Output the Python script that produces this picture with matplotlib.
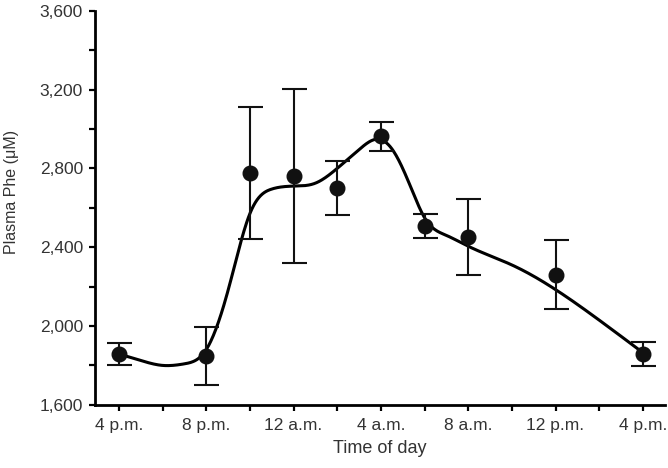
import numpy as np
import matplotlib
matplotlib.use("Agg")
import matplotlib.pyplot as plt
from matplotlib.ticker import FuncFormatter, MultipleLocator

plt.rcParams['font.family'] = ['Liberation Sans', 'DejaVu Sans']

# Measured points (hours after 4 p.m.)
hours = [0, 4, 6, 8, 10, 12, 14, 16, 20, 24]
phe_mean = [1858, 1848, 2778, 2762, 2700, 2962, 2508, 2453, 2260, 1858]
phe_err = [58, 148, 335, 440, 137, 72, 63, 192, 175, 60]

# Fitted curve
curve_hours = [0, 1, 2, 3, 4, 5, 6, 7, 8, 9, 10, 11, 11.8, 12.5, 13, 13.5,
               14, 15, 16, 18, 20, 22, 24]
curve_phe = [1858, 1825, 1800, 1808, 1880, 2180, 2570, 2695, 2710, 2725,
             2800, 2895, 2948, 2900, 2800, 2670, 2550, 2460, 2405, 2310,
             2185, 2030, 1865]

tick_hours = [0, 4, 8, 12, 16, 20, 24]
tick_labels = ["4 p.m.", "8 p.m.", "12 a.m.", "4 a.m.", "8 a.m.", "12 p.m.", "4 p.m."]


def natural_spline(x, y, xs):
    x = np.asarray(x, float)
    y = np.asarray(y, float)
    n = len(x)
    h = np.diff(x)
    A = np.zeros((n, n))
    b = np.zeros(n)
    A[0, 0] = 1
    A[-1, -1] = 1
    for i in range(1, n - 1):
        A[i, i - 1] = h[i - 1]
        A[i, i] = 2 * (h[i - 1] + h[i])
        A[i, i + 1] = h[i]
        b[i] = 3 * ((y[i + 1] - y[i]) / h[i] - (y[i] - y[i - 1]) / h[i - 1])
    c = np.linalg.solve(A, b)
    bb = (y[1:] - y[:-1]) / h - h * (2 * c[:-1] + c[1:]) / 3
    d = (c[1:] - c[:-1]) / (3 * h)
    idx = np.clip(np.searchsorted(x, xs) - 1, 0, n - 2)
    dx = xs - x[idx]
    return y[idx] + bb[idx] * dx + c[idx] * dx ** 2 + d[idx] * dx ** 3


fig = plt.figure(figsize=(6.68, 4.68), dpi=100)
ax = fig.add_axes([0.142, 0.135, 0.853, 0.842])

xs = np.linspace(curve_hours[0], curve_hours[-1], 600)
ax.plot(xs, natural_spline(curve_hours, curve_phe, xs), color='black', lw=2.2, zorder=2)

ax.errorbar(hours, phe_mean, yerr=phe_err, fmt='o', color='#111111',
            markersize=10.5, elinewidth=1.5, capsize=9, capthick=1.5, zorder=3)

ax.set_xlim(-1.1, 25.0)
ax.set_ylim(1600, 3600)
ax.set_xticks(tick_hours)
ax.set_xticklabels(tick_labels)
ax.xaxis.set_minor_locator(MultipleLocator(2))
ax.yaxis.set_major_locator(MultipleLocator(400))
ax.yaxis.set_minor_locator(MultipleLocator(200))
ax.yaxis.set_major_formatter(FuncFormatter(lambda v, p: f"{int(v):,}"))

for side in ['top', 'right']:
    ax.spines[side].set_visible(False)
for side in ['left', 'bottom']:
    ax.spines[side].set_linewidth(2.0)

ax.tick_params(which='both', direction='out', width=1.6, length=4.5,
               colors='black', labelcolor='#333333', labelsize=12.5)
ax.tick_params(axis='y', which='major', pad=4)
ax.tick_params(axis='x', which='major', pad=5)

ax.set_xlabel("Time of day", fontsize=13, color='#333333', labelpad=5)
ax.set_ylabel("Plasma Phe (\u03bcM)", fontsize=11.5, color='#333333')
ax.yaxis.set_label_coords(-0.134, 0.541)

fig.savefig("out.png", dpi=100)
